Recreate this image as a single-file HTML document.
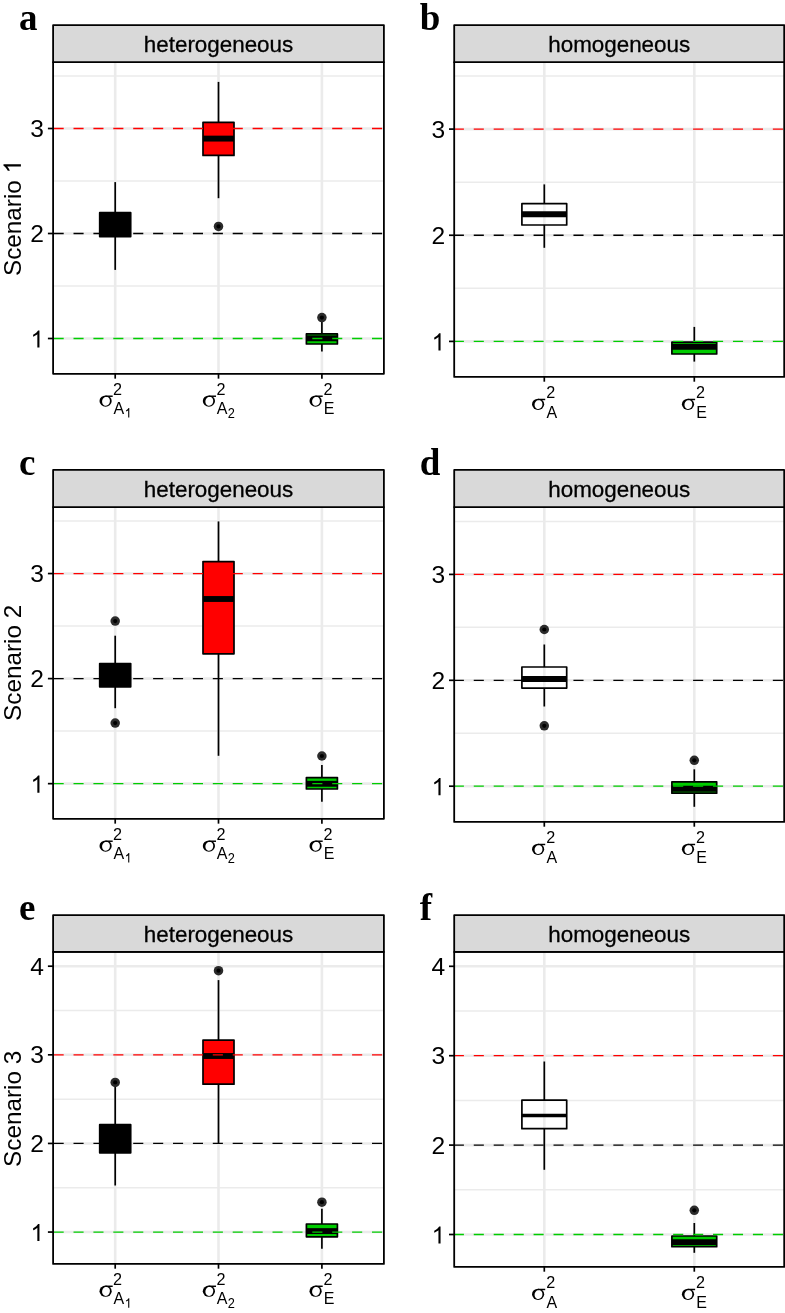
<!DOCTYPE html>
<html><head><meta charset="utf-8"><title>Variance component estimates: heterogeneous vs homogeneous models</title>
<style>
html,body{margin:0;padding:0;background:#fff;}
svg{display:block;will-change:transform;font-family:"Liberation Sans",sans-serif;fill:#000;}
</style></head>
<body>
<svg width="785" height="1313" viewBox="0 0 785 1313">
<rect width="785" height="1313" fill="#fff"/>
<g>
<line x1="53.1" x2="383.9" y1="286" y2="286" stroke="#ebebeb" stroke-width="1.5"/>
<line x1="53.1" x2="383.9" y1="181" y2="181" stroke="#ebebeb" stroke-width="1.5"/>
<line x1="53.1" x2="383.9" y1="76" y2="76" stroke="#ebebeb" stroke-width="1.5"/>
<line x1="53.1" x2="383.9" y1="338.5" y2="338.5" stroke="#ebebeb" stroke-width="2.6"/>
<line x1="53.1" x2="383.9" y1="233.5" y2="233.5" stroke="#ebebeb" stroke-width="2.6"/>
<line x1="53.1" x2="383.9" y1="128.5" y2="128.5" stroke="#ebebeb" stroke-width="2.6"/>
<line x1="115.2" x2="115.2" y1="62.2" y2="373.85" stroke="#ebebeb" stroke-width="2.6"/>
<line x1="218.5" x2="218.5" y1="62.2" y2="373.85" stroke="#ebebeb" stroke-width="2.6"/>
<line x1="321.9" x2="321.9" y1="62.2" y2="373.85" stroke="#ebebeb" stroke-width="2.6"/>
<line x1="115.2" x2="115.2" y1="182.1" y2="212.7" stroke="#000" stroke-width="1.7"/>
<line x1="115.2" x2="115.2" y1="236.6" y2="269.9" stroke="#000" stroke-width="1.7"/>
<rect x="99.7" y="212.7" width="31" height="23.9" fill="#000" stroke="#000" stroke-width="1.7" stroke-linejoin="round"/>
<line x1="99.7" x2="130.7" y1="224" y2="224" stroke="#000" stroke-width="5.9"/>
<line x1="218.5" x2="218.5" y1="81.9" y2="122.3" stroke="#000" stroke-width="1.7"/>
<line x1="218.5" x2="218.5" y1="155.4" y2="198.2" stroke="#000" stroke-width="1.7"/>
<rect x="203" y="122.3" width="31" height="33.1" fill="#ff0000" stroke="#000" stroke-width="1.7" stroke-linejoin="round"/>
<line x1="203" x2="234" y1="138.6" y2="138.6" stroke="#000" stroke-width="5.9"/>
<circle cx="218.5" cy="226.4" r="4.75" fill="#2b2b2b"/><circle cx="218.5" cy="226.4" r="2.1" fill="#000"/>
<line x1="321.9" x2="321.9" y1="321.6" y2="333.9" stroke="#000" stroke-width="1.7"/>
<line x1="321.9" x2="321.9" y1="344" y2="351.6" stroke="#000" stroke-width="1.7"/>
<rect x="306.4" y="333.9" width="31" height="10.1" fill="#00cd00" stroke="#000" stroke-width="1.7" stroke-linejoin="round"/>
<line x1="306.4" x2="337.4" y1="338.3" y2="338.3" stroke="#000" stroke-width="5.9"/>
<circle cx="321.9" cy="317.6" r="4.75" fill="#2b2b2b"/><circle cx="321.9" cy="317.6" r="2.1" fill="#000"/>
<line x1="53.1" x2="383.9" y1="128.5" y2="128.5" stroke="#ff0000" stroke-width="1.3" stroke-dasharray="10.1 9.8" stroke-dashoffset="-0.5"/>
<line x1="53.1" x2="383.9" y1="233.5" y2="233.5" stroke="#000" stroke-width="1.3" stroke-dasharray="10.1 9.8" stroke-dashoffset="-0.5"/>
<line x1="53.1" x2="383.9" y1="338.5" y2="338.5" stroke="#00cd00" stroke-width="1.3" stroke-dasharray="10.1 9.8" stroke-dashoffset="-0.5"/>
<rect x="53.1" y="62.2" width="330.8" height="311.65" fill="none" stroke="#000" stroke-width="1.8" stroke-linejoin="round"/>
<rect x="53.1" y="25.05" width="330.8" height="37.15" fill="#d9d9d9" stroke="#000" stroke-width="1.8" stroke-linejoin="round"/>
<text x="218.5" y="51.7" text-anchor="middle" font-size="22.4" stroke="#000" stroke-width="0.3">heterogeneous</text>
<line x1="47.9" x2="53.1" y1="338.5" y2="338.5" stroke="#000" stroke-width="1.7"/>
<path d="M763 0L583 0L583 1147Q518 1085 412 1023Q306 961 223 930L223 1104Q372 1174 484 1274Q596 1374 643 1466L763 1466Z" transform="translate(30.52,347.56) scale(0.01171,-0.01171)"/>
<line x1="47.9" x2="53.1" y1="233.5" y2="233.5" stroke="#000" stroke-width="1.7"/>
<text x="44" y="241.96" text-anchor="end" font-size="24.6">2</text>
<line x1="47.9" x2="53.1" y1="128.5" y2="128.5" stroke="#000" stroke-width="1.7"/>
<text x="44" y="136.96" text-anchor="end" font-size="24.6">3</text>
<line x1="115.2" x2="115.2" y1="373.85" y2="378.65" stroke="#000" stroke-width="1.7"/>
<g transform="translate(99.5,395.35)"><ellipse cx="6.1" cy="5.75" rx="6.1" ry="5.65"/><ellipse cx="6.5" cy="5.95" rx="3.9" ry="4.6" transform="rotate(14 6.5 5.95)" fill="#fff"/><rect x="6" y="0.15" width="7.2" height="1.45"/></g>
<text x="113.1" y="394.65" font-size="16.2">2</text>
<text x="113.4" y="414.05" font-size="16">A</text>
<path d="M763 0L583 0L583 1147Q518 1085 412 1023Q306 961 223 930L223 1104Q372 1174 484 1274Q596 1374 643 1466L763 1466Z" transform="translate(124.67,417.6) scale(0.00605,-0.00648)"/>
<line x1="218.5" x2="218.5" y1="373.85" y2="378.65" stroke="#000" stroke-width="1.7"/>
<g transform="translate(202.8,395.35)"><ellipse cx="6.1" cy="5.75" rx="6.1" ry="5.65"/><ellipse cx="6.5" cy="5.95" rx="3.9" ry="4.6" transform="rotate(14 6.5 5.95)" fill="#fff"/><rect x="6" y="0.15" width="7.2" height="1.45"/></g>
<text x="216.4" y="394.65" font-size="16.2">2</text>
<text x="216.7" y="414.05" font-size="16">A</text>
<text transform="translate(227.77,417.6) scale(1,1.1)" font-size="12.8">2</text>
<line x1="321.9" x2="321.9" y1="373.85" y2="378.65" stroke="#000" stroke-width="1.7"/>
<g transform="translate(309.5,395.35)"><ellipse cx="6.1" cy="5.75" rx="6.1" ry="5.65"/><ellipse cx="6.5" cy="5.95" rx="3.9" ry="4.6" transform="rotate(14 6.5 5.95)" fill="#fff"/><rect x="6" y="0.15" width="7.2" height="1.45"/></g>
<text x="323.5" y="394.65" font-size="16.2">2</text>
<text x="323.8" y="414.05" font-size="16">E</text>
<text x="18.9" y="30.1" font-family="Liberation Serif" font-weight="bold" font-size="37.0">a</text>
</g>
<g>
<line x1="454.2" x2="784.2" y1="288.33" y2="288.33" stroke="#ebebeb" stroke-width="1.5"/>
<line x1="454.2" x2="784.2" y1="182.18" y2="182.18" stroke="#ebebeb" stroke-width="1.5"/>
<line x1="454.2" x2="784.2" y1="76.02" y2="76.02" stroke="#ebebeb" stroke-width="1.5"/>
<line x1="454.2" x2="784.2" y1="341.4" y2="341.4" stroke="#ebebeb" stroke-width="2.6"/>
<line x1="454.2" x2="784.2" y1="235.25" y2="235.25" stroke="#ebebeb" stroke-width="2.6"/>
<line x1="454.2" x2="784.2" y1="129.1" y2="129.1" stroke="#ebebeb" stroke-width="2.6"/>
<line x1="544.3" x2="544.3" y1="62.2" y2="376.9" stroke="#ebebeb" stroke-width="2.6"/>
<line x1="694.3" x2="694.3" y1="62.2" y2="376.9" stroke="#ebebeb" stroke-width="2.6"/>
<line x1="544.3" x2="544.3" y1="184.4" y2="203.7" stroke="#000" stroke-width="1.7"/>
<line x1="544.3" x2="544.3" y1="225" y2="247.8" stroke="#000" stroke-width="1.7"/>
<rect x="521.9" y="203.7" width="44.8" height="21.3" fill="white" fill-opacity="0.1" stroke="#000" stroke-width="1.7" stroke-linejoin="round"/>
<line x1="521.9" x2="566.7" y1="214.3" y2="214.3" stroke="#000" stroke-width="5.9"/>
<line x1="694.3" x2="694.3" y1="326.9" y2="342.2" stroke="#000" stroke-width="1.7"/>
<line x1="694.3" x2="694.3" y1="354" y2="361.6" stroke="#000" stroke-width="1.7"/>
<rect x="671.9" y="342.2" width="44.8" height="11.8" fill="#00cd00" stroke="#000" stroke-width="1.7" stroke-linejoin="round"/>
<line x1="671.9" x2="716.7" y1="346.7" y2="346.7" stroke="#000" stroke-width="5.9"/>
<line x1="454.2" x2="784.2" y1="129.1" y2="129.1" stroke="#ff0000" stroke-width="1.3" stroke-dasharray="10.1 9.84" stroke-dashoffset="0.4"/>
<line x1="454.2" x2="784.2" y1="235.25" y2="235.25" stroke="#000" stroke-width="1.3" stroke-dasharray="10.1 9.84" stroke-dashoffset="0.4"/>
<line x1="454.2" x2="784.2" y1="341.4" y2="341.4" stroke="#00cd00" stroke-width="1.3" stroke-dasharray="10.1 9.84" stroke-dashoffset="0.4"/>
<rect x="454.2" y="62.2" width="330" height="314.7" fill="none" stroke="#000" stroke-width="1.8" stroke-linejoin="round"/>
<rect x="454.2" y="25.05" width="330" height="37.15" fill="#d9d9d9" stroke="#000" stroke-width="1.8" stroke-linejoin="round"/>
<text x="619.2" y="51.7" text-anchor="middle" font-size="22.4" stroke="#000" stroke-width="0.3">homogeneous</text>
<line x1="449" x2="454.2" y1="341.4" y2="341.4" stroke="#000" stroke-width="1.7"/>
<path d="M763 0L583 0L583 1147Q518 1085 412 1023Q306 961 223 930L223 1104Q372 1174 484 1274Q596 1374 643 1466L763 1466Z" transform="translate(431.62,350.46) scale(0.01171,-0.01171)"/>
<line x1="449" x2="454.2" y1="235.25" y2="235.25" stroke="#000" stroke-width="1.7"/>
<text x="445.1" y="243.71" text-anchor="end" font-size="24.6">2</text>
<line x1="449" x2="454.2" y1="129.1" y2="129.1" stroke="#000" stroke-width="1.7"/>
<text x="445.1" y="137.56" text-anchor="end" font-size="24.6">3</text>
<line x1="544.3" x2="544.3" y1="376.9" y2="381.7" stroke="#000" stroke-width="1.7"/>
<g transform="translate(532,398.6)"><ellipse cx="6.1" cy="5.75" rx="6.1" ry="5.65"/><ellipse cx="6.5" cy="5.95" rx="3.9" ry="4.6" transform="rotate(14 6.5 5.95)" fill="#fff"/><rect x="6" y="0.15" width="7.2" height="1.45"/></g>
<text x="546.3" y="398.1" font-size="16.2">2</text>
<text x="546.6" y="417.5" font-size="16">A</text>
<line x1="694.3" x2="694.3" y1="376.9" y2="381.7" stroke="#000" stroke-width="1.7"/>
<g transform="translate(681.9,398.6)"><ellipse cx="6.1" cy="5.75" rx="6.1" ry="5.65"/><ellipse cx="6.5" cy="5.95" rx="3.9" ry="4.6" transform="rotate(14 6.5 5.95)" fill="#fff"/><rect x="6" y="0.15" width="7.2" height="1.45"/></g>
<text x="695.9" y="398.1" font-size="16.2">2</text>
<text x="696.2" y="417.5" font-size="16">E</text>
<text x="419.7" y="30.1" font-family="Liberation Serif" font-weight="bold" font-size="37.0">b</text>
</g>
<g>
<line x1="53.1" x2="383.9" y1="731.12" y2="731.12" stroke="#ebebeb" stroke-width="1.5"/>
<line x1="53.1" x2="383.9" y1="626.07" y2="626.07" stroke="#ebebeb" stroke-width="1.5"/>
<line x1="53.1" x2="383.9" y1="521.02" y2="521.02" stroke="#ebebeb" stroke-width="1.5"/>
<line x1="53.1" x2="383.9" y1="783.65" y2="783.65" stroke="#ebebeb" stroke-width="2.6"/>
<line x1="53.1" x2="383.9" y1="678.6" y2="678.6" stroke="#ebebeb" stroke-width="2.6"/>
<line x1="53.1" x2="383.9" y1="573.55" y2="573.55" stroke="#ebebeb" stroke-width="2.6"/>
<line x1="115.2" x2="115.2" y1="507.1" y2="818.85" stroke="#ebebeb" stroke-width="2.6"/>
<line x1="218.5" x2="218.5" y1="507.1" y2="818.85" stroke="#ebebeb" stroke-width="2.6"/>
<line x1="321.9" x2="321.9" y1="507.1" y2="818.85" stroke="#ebebeb" stroke-width="2.6"/>
<line x1="115.2" x2="115.2" y1="635.7" y2="663.5" stroke="#000" stroke-width="1.7"/>
<line x1="115.2" x2="115.2" y1="686.8" y2="708.2" stroke="#000" stroke-width="1.7"/>
<rect x="99.7" y="663.5" width="31" height="23.3" fill="#000" stroke="#000" stroke-width="1.7" stroke-linejoin="round"/>
<line x1="99.7" x2="130.7" y1="675" y2="675" stroke="#000" stroke-width="5.9"/>
<circle cx="115.2" cy="621.1" r="4.75" fill="#2b2b2b"/><circle cx="115.2" cy="621.1" r="2.1" fill="#000"/>
<circle cx="115.2" cy="723.1" r="4.75" fill="#2b2b2b"/><circle cx="115.2" cy="723.1" r="2.1" fill="#000"/>
<line x1="218.5" x2="218.5" y1="521.4" y2="561.6" stroke="#000" stroke-width="1.7"/>
<line x1="218.5" x2="218.5" y1="653.8" y2="755.8" stroke="#000" stroke-width="1.7"/>
<rect x="203" y="561.6" width="31" height="92.2" fill="#ff0000" stroke="#000" stroke-width="1.7" stroke-linejoin="round"/>
<line x1="203" x2="234" y1="599" y2="599" stroke="#000" stroke-width="5.9"/>
<line x1="321.9" x2="321.9" y1="765.1" y2="777.6" stroke="#000" stroke-width="1.7"/>
<line x1="321.9" x2="321.9" y1="789" y2="801.7" stroke="#000" stroke-width="1.7"/>
<rect x="306.4" y="777.6" width="31" height="11.4" fill="#00cd00" stroke="#000" stroke-width="1.7" stroke-linejoin="round"/>
<line x1="306.4" x2="337.4" y1="783.8" y2="783.8" stroke="#000" stroke-width="5.9"/>
<circle cx="321.9" cy="756" r="4.75" fill="#2b2b2b"/><circle cx="321.9" cy="756" r="2.1" fill="#000"/>
<line x1="53.1" x2="383.9" y1="573.55" y2="573.55" stroke="#ff0000" stroke-width="1.3" stroke-dasharray="10.1 9.8" stroke-dashoffset="-0.5"/>
<line x1="53.1" x2="383.9" y1="678.6" y2="678.6" stroke="#000" stroke-width="1.3" stroke-dasharray="10.1 9.8" stroke-dashoffset="-0.5"/>
<line x1="53.1" x2="383.9" y1="783.65" y2="783.65" stroke="#00cd00" stroke-width="1.3" stroke-dasharray="10.1 9.8" stroke-dashoffset="-0.5"/>
<rect x="53.1" y="507.1" width="330.8" height="311.75" fill="none" stroke="#000" stroke-width="1.8" stroke-linejoin="round"/>
<rect x="53.1" y="469.95" width="330.8" height="37.15" fill="#d9d9d9" stroke="#000" stroke-width="1.8" stroke-linejoin="round"/>
<text x="218.5" y="496.6" text-anchor="middle" font-size="22.4" stroke="#000" stroke-width="0.3">heterogeneous</text>
<line x1="47.9" x2="53.1" y1="783.65" y2="783.65" stroke="#000" stroke-width="1.7"/>
<path d="M763 0L583 0L583 1147Q518 1085 412 1023Q306 961 223 930L223 1104Q372 1174 484 1274Q596 1374 643 1466L763 1466Z" transform="translate(30.52,792.71) scale(0.01171,-0.01171)"/>
<line x1="47.9" x2="53.1" y1="678.6" y2="678.6" stroke="#000" stroke-width="1.7"/>
<text x="44" y="687.06" text-anchor="end" font-size="24.6">2</text>
<line x1="47.9" x2="53.1" y1="573.55" y2="573.55" stroke="#000" stroke-width="1.7"/>
<text x="44" y="582.01" text-anchor="end" font-size="24.6">3</text>
<line x1="115.2" x2="115.2" y1="818.85" y2="823.65" stroke="#000" stroke-width="1.7"/>
<g transform="translate(99.5,840.35)"><ellipse cx="6.1" cy="5.75" rx="6.1" ry="5.65"/><ellipse cx="6.5" cy="5.95" rx="3.9" ry="4.6" transform="rotate(14 6.5 5.95)" fill="#fff"/><rect x="6" y="0.15" width="7.2" height="1.45"/></g>
<text x="113.1" y="839.65" font-size="16.2">2</text>
<text x="113.4" y="859.05" font-size="16">A</text>
<path d="M763 0L583 0L583 1147Q518 1085 412 1023Q306 961 223 930L223 1104Q372 1174 484 1274Q596 1374 643 1466L763 1466Z" transform="translate(124.67,862.6) scale(0.00605,-0.00648)"/>
<line x1="218.5" x2="218.5" y1="818.85" y2="823.65" stroke="#000" stroke-width="1.7"/>
<g transform="translate(202.8,840.35)"><ellipse cx="6.1" cy="5.75" rx="6.1" ry="5.65"/><ellipse cx="6.5" cy="5.95" rx="3.9" ry="4.6" transform="rotate(14 6.5 5.95)" fill="#fff"/><rect x="6" y="0.15" width="7.2" height="1.45"/></g>
<text x="216.4" y="839.65" font-size="16.2">2</text>
<text x="216.7" y="859.05" font-size="16">A</text>
<text transform="translate(227.77,862.6) scale(1,1.1)" font-size="12.8">2</text>
<line x1="321.9" x2="321.9" y1="818.85" y2="823.65" stroke="#000" stroke-width="1.7"/>
<g transform="translate(309.5,840.35)"><ellipse cx="6.1" cy="5.75" rx="6.1" ry="5.65"/><ellipse cx="6.5" cy="5.95" rx="3.9" ry="4.6" transform="rotate(14 6.5 5.95)" fill="#fff"/><rect x="6" y="0.15" width="7.2" height="1.45"/></g>
<text x="323.5" y="839.65" font-size="16.2">2</text>
<text x="323.8" y="859.05" font-size="16">E</text>
<text x="18.9" y="474.5" font-family="Liberation Serif" font-weight="bold" font-size="37.0">c</text>
</g>
<g>
<line x1="454.2" x2="784.2" y1="733.25" y2="733.25" stroke="#ebebeb" stroke-width="1.5"/>
<line x1="454.2" x2="784.2" y1="627.35" y2="627.35" stroke="#ebebeb" stroke-width="1.5"/>
<line x1="454.2" x2="784.2" y1="521.45" y2="521.45" stroke="#ebebeb" stroke-width="1.5"/>
<line x1="454.2" x2="784.2" y1="786.2" y2="786.2" stroke="#ebebeb" stroke-width="2.6"/>
<line x1="454.2" x2="784.2" y1="680.3" y2="680.3" stroke="#ebebeb" stroke-width="2.6"/>
<line x1="454.2" x2="784.2" y1="574.4" y2="574.4" stroke="#ebebeb" stroke-width="2.6"/>
<line x1="544.3" x2="544.3" y1="507.1" y2="821.9" stroke="#ebebeb" stroke-width="2.6"/>
<line x1="694.3" x2="694.3" y1="507.1" y2="821.9" stroke="#ebebeb" stroke-width="2.6"/>
<line x1="544.3" x2="544.3" y1="644.5" y2="667" stroke="#000" stroke-width="1.7"/>
<line x1="544.3" x2="544.3" y1="688.1" y2="706.5" stroke="#000" stroke-width="1.7"/>
<rect x="521.9" y="667" width="44.8" height="21.1" fill="white" fill-opacity="0.1" stroke="#000" stroke-width="1.7" stroke-linejoin="round"/>
<line x1="521.9" x2="566.7" y1="679" y2="679" stroke="#000" stroke-width="5.9"/>
<circle cx="544.3" cy="629.5" r="4.75" fill="#2b2b2b"/><circle cx="544.3" cy="629.5" r="2.1" fill="#000"/>
<circle cx="544.3" cy="725.8" r="4.75" fill="#2b2b2b"/><circle cx="544.3" cy="725.8" r="2.1" fill="#000"/>
<line x1="694.3" x2="694.3" y1="769.3" y2="781.8" stroke="#000" stroke-width="1.7"/>
<line x1="694.3" x2="694.3" y1="793.2" y2="806.8" stroke="#000" stroke-width="1.7"/>
<rect x="671.9" y="781.8" width="44.8" height="11.4" fill="#00cd00" stroke="#000" stroke-width="1.7" stroke-linejoin="round"/>
<line x1="671.9" x2="716.7" y1="788.8" y2="788.8" stroke="#000" stroke-width="5.9"/>
<circle cx="694.3" cy="760.3" r="4.75" fill="#2b2b2b"/><circle cx="694.3" cy="760.3" r="2.1" fill="#000"/>
<line x1="454.2" x2="784.2" y1="574.4" y2="574.4" stroke="#ff0000" stroke-width="1.3" stroke-dasharray="10.1 9.84" stroke-dashoffset="0.4"/>
<line x1="454.2" x2="784.2" y1="680.3" y2="680.3" stroke="#000" stroke-width="1.3" stroke-dasharray="10.1 9.84" stroke-dashoffset="0.4"/>
<line x1="454.2" x2="784.2" y1="786.2" y2="786.2" stroke="#00cd00" stroke-width="1.3" stroke-dasharray="10.1 9.84" stroke-dashoffset="0.4"/>
<rect x="454.2" y="507.1" width="330" height="314.8" fill="none" stroke="#000" stroke-width="1.8" stroke-linejoin="round"/>
<rect x="454.2" y="469.95" width="330" height="37.15" fill="#d9d9d9" stroke="#000" stroke-width="1.8" stroke-linejoin="round"/>
<text x="619.2" y="496.6" text-anchor="middle" font-size="22.4" stroke="#000" stroke-width="0.3">homogeneous</text>
<line x1="449" x2="454.2" y1="786.2" y2="786.2" stroke="#000" stroke-width="1.7"/>
<path d="M763 0L583 0L583 1147Q518 1085 412 1023Q306 961 223 930L223 1104Q372 1174 484 1274Q596 1374 643 1466L763 1466Z" transform="translate(431.62,795.26) scale(0.01171,-0.01171)"/>
<line x1="449" x2="454.2" y1="680.3" y2="680.3" stroke="#000" stroke-width="1.7"/>
<text x="445.1" y="688.76" text-anchor="end" font-size="24.6">2</text>
<line x1="449" x2="454.2" y1="574.4" y2="574.4" stroke="#000" stroke-width="1.7"/>
<text x="445.1" y="582.86" text-anchor="end" font-size="24.6">3</text>
<line x1="544.3" x2="544.3" y1="821.9" y2="826.7" stroke="#000" stroke-width="1.7"/>
<g transform="translate(532,843.6)"><ellipse cx="6.1" cy="5.75" rx="6.1" ry="5.65"/><ellipse cx="6.5" cy="5.95" rx="3.9" ry="4.6" transform="rotate(14 6.5 5.95)" fill="#fff"/><rect x="6" y="0.15" width="7.2" height="1.45"/></g>
<text x="546.3" y="843.1" font-size="16.2">2</text>
<text x="546.6" y="862.5" font-size="16">A</text>
<line x1="694.3" x2="694.3" y1="821.9" y2="826.7" stroke="#000" stroke-width="1.7"/>
<g transform="translate(681.9,843.6)"><ellipse cx="6.1" cy="5.75" rx="6.1" ry="5.65"/><ellipse cx="6.5" cy="5.95" rx="3.9" ry="4.6" transform="rotate(14 6.5 5.95)" fill="#fff"/><rect x="6" y="0.15" width="7.2" height="1.45"/></g>
<text x="695.9" y="843.1" font-size="16.2">2</text>
<text x="696.2" y="862.5" font-size="16">E</text>
<text x="419.7" y="474.5" font-family="Liberation Serif" font-weight="bold" font-size="37.0">d</text>
</g>
<g>
<line x1="53.1" x2="383.9" y1="1187.75" y2="1187.75" stroke="#ebebeb" stroke-width="1.5"/>
<line x1="53.1" x2="383.9" y1="1099.13" y2="1099.13" stroke="#ebebeb" stroke-width="1.5"/>
<line x1="53.1" x2="383.9" y1="1010.51" y2="1010.51" stroke="#ebebeb" stroke-width="1.5"/>
<line x1="53.1" x2="383.9" y1="1232.06" y2="1232.06" stroke="#ebebeb" stroke-width="2.6"/>
<line x1="53.1" x2="383.9" y1="1143.44" y2="1143.44" stroke="#ebebeb" stroke-width="2.6"/>
<line x1="53.1" x2="383.9" y1="1054.82" y2="1054.82" stroke="#ebebeb" stroke-width="2.6"/>
<line x1="53.1" x2="383.9" y1="966.2" y2="966.2" stroke="#ebebeb" stroke-width="2.6"/>
<line x1="115.2" x2="115.2" y1="951.9" y2="1263.9" stroke="#ebebeb" stroke-width="2.6"/>
<line x1="218.5" x2="218.5" y1="951.9" y2="1263.9" stroke="#ebebeb" stroke-width="2.6"/>
<line x1="321.9" x2="321.9" y1="951.9" y2="1263.9" stroke="#ebebeb" stroke-width="2.6"/>
<line x1="115.2" x2="115.2" y1="1083" y2="1124.7" stroke="#000" stroke-width="1.7"/>
<line x1="115.2" x2="115.2" y1="1152.8" y2="1185.5" stroke="#000" stroke-width="1.7"/>
<rect x="99.7" y="1124.7" width="31" height="28.1" fill="#000" stroke="#000" stroke-width="1.7" stroke-linejoin="round"/>
<line x1="99.7" x2="130.7" y1="1138" y2="1138" stroke="#000" stroke-width="5.9"/>
<circle cx="115.2" cy="1082.4" r="4.75" fill="#2b2b2b"/><circle cx="115.2" cy="1082.4" r="2.1" fill="#000"/>
<line x1="218.5" x2="218.5" y1="980.1" y2="1040.1" stroke="#000" stroke-width="1.7"/>
<line x1="218.5" x2="218.5" y1="1084.2" y2="1143.1" stroke="#000" stroke-width="1.7"/>
<rect x="203" y="1040.1" width="31" height="44.1" fill="#ff0000" stroke="#000" stroke-width="1.7" stroke-linejoin="round"/>
<line x1="203" x2="234" y1="1056" y2="1056" stroke="#000" stroke-width="5.9"/>
<circle cx="218.5" cy="970.7" r="4.75" fill="#2b2b2b"/><circle cx="218.5" cy="970.7" r="2.1" fill="#000"/>
<line x1="321.9" x2="321.9" y1="1208.8" y2="1224" stroke="#000" stroke-width="1.7"/>
<line x1="321.9" x2="321.9" y1="1236.8" y2="1248.8" stroke="#000" stroke-width="1.7"/>
<rect x="306.4" y="1224" width="31" height="12.8" fill="#00cd00" stroke="#000" stroke-width="1.7" stroke-linejoin="round"/>
<line x1="306.4" x2="337.4" y1="1231.1" y2="1231.1" stroke="#000" stroke-width="5.9"/>
<circle cx="321.9" cy="1202.2" r="4.75" fill="#2b2b2b"/><circle cx="321.9" cy="1202.2" r="2.1" fill="#000"/>
<line x1="53.1" x2="383.9" y1="1054.82" y2="1054.82" stroke="#ff0000" stroke-width="1.3" stroke-dasharray="10.1 9.8" stroke-dashoffset="-0.5"/>
<line x1="53.1" x2="383.9" y1="1143.44" y2="1143.44" stroke="#000" stroke-width="1.3" stroke-dasharray="10.1 9.8" stroke-dashoffset="-0.5"/>
<line x1="53.1" x2="383.9" y1="1232.06" y2="1232.06" stroke="#00cd00" stroke-width="1.3" stroke-dasharray="10.1 9.8" stroke-dashoffset="-0.5"/>
<rect x="53.1" y="951.9" width="330.8" height="312" fill="none" stroke="#000" stroke-width="1.8" stroke-linejoin="round"/>
<rect x="53.1" y="915.05" width="330.8" height="36.85" fill="#d9d9d9" stroke="#000" stroke-width="1.8" stroke-linejoin="round"/>
<text x="218.5" y="941.7" text-anchor="middle" font-size="22.4" stroke="#000" stroke-width="0.3">heterogeneous</text>
<line x1="47.9" x2="53.1" y1="1232.06" y2="1232.06" stroke="#000" stroke-width="1.7"/>
<path d="M763 0L583 0L583 1147Q518 1085 412 1023Q306 961 223 930L223 1104Q372 1174 484 1274Q596 1374 643 1466L763 1466Z" transform="translate(30.52,1241.12) scale(0.01171,-0.01171)"/>
<line x1="47.9" x2="53.1" y1="1143.44" y2="1143.44" stroke="#000" stroke-width="1.7"/>
<text x="44" y="1151.9" text-anchor="end" font-size="24.6">2</text>
<line x1="47.9" x2="53.1" y1="1054.82" y2="1054.82" stroke="#000" stroke-width="1.7"/>
<text x="44" y="1063.28" text-anchor="end" font-size="24.6">3</text>
<line x1="47.9" x2="53.1" y1="966.2" y2="966.2" stroke="#000" stroke-width="1.7"/>
<text x="44" y="974.66" text-anchor="end" font-size="24.6">4</text>
<line x1="115.2" x2="115.2" y1="1263.9" y2="1268.7" stroke="#000" stroke-width="1.7"/>
<g transform="translate(99.5,1285.4)"><ellipse cx="6.1" cy="5.75" rx="6.1" ry="5.65"/><ellipse cx="6.5" cy="5.95" rx="3.9" ry="4.6" transform="rotate(14 6.5 5.95)" fill="#fff"/><rect x="6" y="0.15" width="7.2" height="1.45"/></g>
<text x="113.1" y="1284.7" font-size="16.2">2</text>
<text x="113.4" y="1304.1" font-size="16">A</text>
<path d="M763 0L583 0L583 1147Q518 1085 412 1023Q306 961 223 930L223 1104Q372 1174 484 1274Q596 1374 643 1466L763 1466Z" transform="translate(124.67,1307.65) scale(0.00605,-0.00648)"/>
<line x1="218.5" x2="218.5" y1="1263.9" y2="1268.7" stroke="#000" stroke-width="1.7"/>
<g transform="translate(202.8,1285.4)"><ellipse cx="6.1" cy="5.75" rx="6.1" ry="5.65"/><ellipse cx="6.5" cy="5.95" rx="3.9" ry="4.6" transform="rotate(14 6.5 5.95)" fill="#fff"/><rect x="6" y="0.15" width="7.2" height="1.45"/></g>
<text x="216.4" y="1284.7" font-size="16.2">2</text>
<text x="216.7" y="1304.1" font-size="16">A</text>
<text transform="translate(227.77,1307.65) scale(1,1.1)" font-size="12.8">2</text>
<line x1="321.9" x2="321.9" y1="1263.9" y2="1268.7" stroke="#000" stroke-width="1.7"/>
<g transform="translate(309.5,1285.4)"><ellipse cx="6.1" cy="5.75" rx="6.1" ry="5.65"/><ellipse cx="6.5" cy="5.95" rx="3.9" ry="4.6" transform="rotate(14 6.5 5.95)" fill="#fff"/><rect x="6" y="0.15" width="7.2" height="1.45"/></g>
<text x="323.5" y="1284.7" font-size="16.2">2</text>
<text x="323.8" y="1304.1" font-size="16">E</text>
<text x="18.9" y="920.3" font-family="Liberation Serif" font-weight="bold" font-size="37.0">e</text>
</g>
<g>
<line x1="454.2" x2="784.2" y1="1189.8" y2="1189.8" stroke="#ebebeb" stroke-width="1.5"/>
<line x1="454.2" x2="784.2" y1="1100.4" y2="1100.4" stroke="#ebebeb" stroke-width="1.5"/>
<line x1="454.2" x2="784.2" y1="1011" y2="1011" stroke="#ebebeb" stroke-width="1.5"/>
<line x1="454.2" x2="784.2" y1="1234.5" y2="1234.5" stroke="#ebebeb" stroke-width="2.6"/>
<line x1="454.2" x2="784.2" y1="1145.1" y2="1145.1" stroke="#ebebeb" stroke-width="2.6"/>
<line x1="454.2" x2="784.2" y1="1055.7" y2="1055.7" stroke="#ebebeb" stroke-width="2.6"/>
<line x1="454.2" x2="784.2" y1="966.3" y2="966.3" stroke="#ebebeb" stroke-width="2.6"/>
<line x1="544.3" x2="544.3" y1="951.9" y2="1266.9" stroke="#ebebeb" stroke-width="2.6"/>
<line x1="694.3" x2="694.3" y1="951.9" y2="1266.9" stroke="#ebebeb" stroke-width="2.6"/>
<line x1="544.3" x2="544.3" y1="1061.5" y2="1100.2" stroke="#000" stroke-width="1.7"/>
<line x1="544.3" x2="544.3" y1="1128.7" y2="1169.8" stroke="#000" stroke-width="1.7"/>
<rect x="521.9" y="1100.2" width="44.8" height="28.5" fill="white" fill-opacity="0.1" stroke="#000" stroke-width="1.7" stroke-linejoin="round"/>
<line x1="521.9" x2="566.7" y1="1115.5" y2="1115.5" stroke="#000" stroke-width="3.3"/>
<line x1="694.3" x2="694.3" y1="1223" y2="1236" stroke="#000" stroke-width="1.7"/>
<line x1="694.3" x2="694.3" y1="1246.7" y2="1252.8" stroke="#000" stroke-width="1.7"/>
<rect x="671.9" y="1236" width="44.8" height="10.7" fill="#00cd00" stroke="#000" stroke-width="1.7" stroke-linejoin="round"/>
<line x1="671.9" x2="716.7" y1="1242.1" y2="1242.1" stroke="#000" stroke-width="5.9"/>
<circle cx="694.3" cy="1210.3" r="4.75" fill="#2b2b2b"/><circle cx="694.3" cy="1210.3" r="2.1" fill="#000"/>
<line x1="454.2" x2="784.2" y1="1055.7" y2="1055.7" stroke="#ff0000" stroke-width="1.3" stroke-dasharray="10.1 9.84" stroke-dashoffset="0.4"/>
<line x1="454.2" x2="784.2" y1="1145.1" y2="1145.1" stroke="#000" stroke-width="1.3" stroke-dasharray="10.1 9.84" stroke-dashoffset="0.4"/>
<line x1="454.2" x2="784.2" y1="1234.5" y2="1234.5" stroke="#00cd00" stroke-width="1.3" stroke-dasharray="10.1 9.84" stroke-dashoffset="0.4"/>
<rect x="454.2" y="951.9" width="330" height="315" fill="none" stroke="#000" stroke-width="1.8" stroke-linejoin="round"/>
<rect x="454.2" y="915.05" width="330" height="36.85" fill="#d9d9d9" stroke="#000" stroke-width="1.8" stroke-linejoin="round"/>
<text x="619.2" y="941.7" text-anchor="middle" font-size="22.4" stroke="#000" stroke-width="0.3">homogeneous</text>
<line x1="449" x2="454.2" y1="1234.5" y2="1234.5" stroke="#000" stroke-width="1.7"/>
<path d="M763 0L583 0L583 1147Q518 1085 412 1023Q306 961 223 930L223 1104Q372 1174 484 1274Q596 1374 643 1466L763 1466Z" transform="translate(431.62,1243.56) scale(0.01171,-0.01171)"/>
<line x1="449" x2="454.2" y1="1145.1" y2="1145.1" stroke="#000" stroke-width="1.7"/>
<text x="445.1" y="1153.56" text-anchor="end" font-size="24.6">2</text>
<line x1="449" x2="454.2" y1="1055.7" y2="1055.7" stroke="#000" stroke-width="1.7"/>
<text x="445.1" y="1064.16" text-anchor="end" font-size="24.6">3</text>
<line x1="449" x2="454.2" y1="966.3" y2="966.3" stroke="#000" stroke-width="1.7"/>
<text x="445.1" y="974.76" text-anchor="end" font-size="24.6">4</text>
<line x1="544.3" x2="544.3" y1="1266.9" y2="1271.7" stroke="#000" stroke-width="1.7"/>
<g transform="translate(532,1288.6)"><ellipse cx="6.1" cy="5.75" rx="6.1" ry="5.65"/><ellipse cx="6.5" cy="5.95" rx="3.9" ry="4.6" transform="rotate(14 6.5 5.95)" fill="#fff"/><rect x="6" y="0.15" width="7.2" height="1.45"/></g>
<text x="546.3" y="1288.1" font-size="16.2">2</text>
<text x="546.6" y="1307.5" font-size="16">A</text>
<line x1="694.3" x2="694.3" y1="1266.9" y2="1271.7" stroke="#000" stroke-width="1.7"/>
<g transform="translate(681.9,1288.6)"><ellipse cx="6.1" cy="5.75" rx="6.1" ry="5.65"/><ellipse cx="6.5" cy="5.95" rx="3.9" ry="4.6" transform="rotate(14 6.5 5.95)" fill="#fff"/><rect x="6" y="0.15" width="7.2" height="1.45"/></g>
<text x="695.9" y="1288.1" font-size="16.2">2</text>
<text x="696.2" y="1307.5" font-size="16">E</text>
<text x="419.7" y="920.3" font-family="Liberation Serif" font-weight="bold" font-size="37.0">f</text>
</g>
<g transform="translate(20.9,218) rotate(-90)"><text x="-58.09" y="0" font-size="24.3">Scenario</text><path d="M763 0L583 0L583 1147Q518 1085 412 1023Q306 961 223 930L223 1104Q372 1174 484 1274Q596 1374 643 1466L763 1466Z" transform="translate(44.57,0) scale(0.01187,-0.01187)"/></g>
<g transform="translate(20.9,662.8) rotate(-90)"><text x="-58.09" y="0" font-size="24.3">Scenario 2</text></g>
<g transform="translate(20.9,1108.9) rotate(-90)"><text x="-58.09" y="0" font-size="24.3">Scenario 3</text></g>
</svg>
</body></html>
